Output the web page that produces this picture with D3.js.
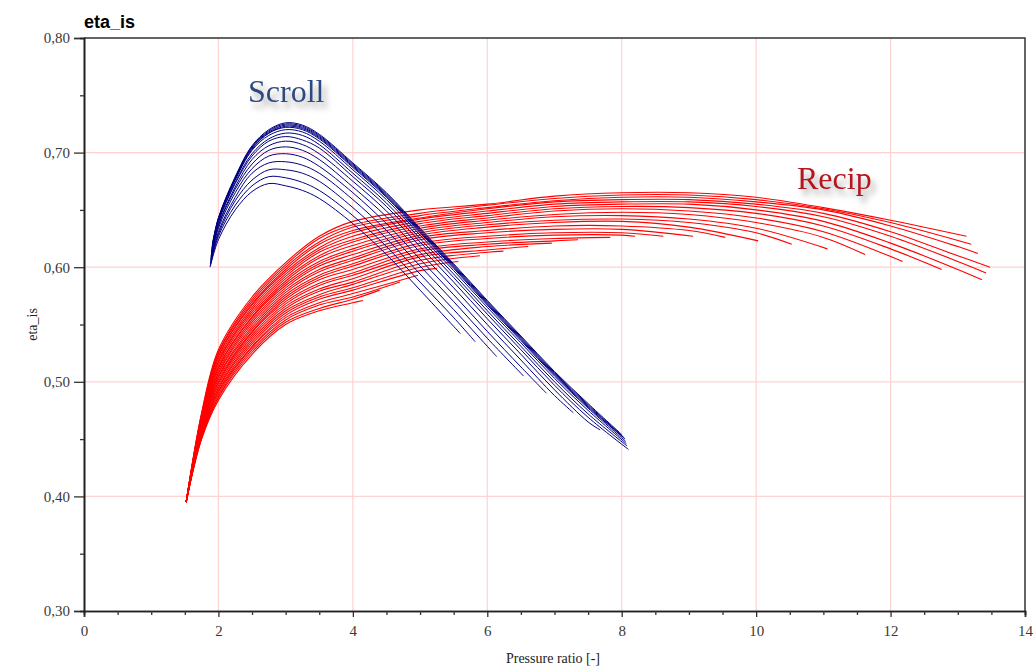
<!DOCTYPE html>
<html>
<head>
<meta charset="utf-8">
<script src="https://cdn.jsdelivr.net/npm/d3@7"></script>
<style>
  body { margin: 0; background: #fff; }
  svg { display: block; }
</style>
</head>
<body>
<script>
// chart size
var width = 1034,
    height = 668;

const margin = {left: 84, right: 9, top: 38, bottom: 57};

// axis ticks
const xTicks = [0, 2, 4, 6, 8, 10, 12, 14];
const yTicks = [0.3, 0.4, 0.5, 0.6, 0.7, 0.8];

// Scroll curves: common x grid, one y row per curve (truncated at its end point)
const scrollGridX = [2.0, 2.25, 2.5, 2.75, 3.0, 3.25, 3.5, 4.0, 4.5, 5.0, 5.5, 6.0, 6.5, 7.0, 7.5];
const scrollStartX = [1.875, 1.878, 1.880, 1.883, 1.885, 1.888, 1.890, 1.893, 1.895, 1.898, 1.900, 1.903, 1.905, 1.908, 1.910];
const scrollStartY = [0.600, 0.601, 0.603, 0.604, 0.606, 0.607, 0.609, 0.610, 0.611, 0.613, 0.614, 0.616, 0.617, 0.619, 0.620];
const scrollY = [
  [0.624, 0.650, 0.666, 0.673, 0.671, 0.667, 0.660, 0.638, 0.611, 0.580],
  [0.627, 0.654, 0.671, 0.679, 0.678, 0.674, 0.667, 0.645, 0.618, 0.587, 0.556],
  [0.629, 0.658, 0.676, 0.685, 0.685, 0.682, 0.675, 0.652, 0.625, 0.594, 0.563, 0.531],
  [0.631, 0.661, 0.682, 0.691, 0.692, 0.689, 0.682, 0.659, 0.632, 0.601, 0.570, 0.538],
  [0.634, 0.665, 0.686, 0.697, 0.699, 0.696, 0.688, 0.665, 0.638, 0.607, 0.576, 0.544, 0.513],
  [0.636, 0.668, 0.690, 0.702, 0.705, 0.702, 0.694, 0.670, 0.644, 0.613, 0.582, 0.550, 0.519, 0.488],
  [0.637, 0.670, 0.694, 0.706, 0.710, 0.707, 0.699, 0.675, 0.649, 0.618, 0.587, 0.555, 0.524, 0.493, 0.465],
  [0.639, 0.673, 0.697, 0.710, 0.714, 0.711, 0.704, 0.679, 0.653, 0.622, 0.591, 0.559, 0.528, 0.497, 0.469],
  [0.640, 0.674, 0.699, 0.712, 0.717, 0.715, 0.707, 0.682, 0.656, 0.625, 0.594, 0.562, 0.531, 0.500, 0.472],
  [0.641, 0.676, 0.702, 0.715, 0.720, 0.718, 0.710, 0.685, 0.659, 0.628, 0.597, 0.565, 0.534, 0.503, 0.475],
  [0.642, 0.677, 0.703, 0.717, 0.722, 0.720, 0.712, 0.687, 0.661, 0.630, 0.599, 0.567, 0.536, 0.505, 0.477],
  [0.642, 0.677, 0.704, 0.717, 0.723, 0.721, 0.713, 0.688, 0.662, 0.631, 0.600, 0.568, 0.537, 0.506, 0.478],
  [0.642, 0.678, 0.705, 0.718, 0.724, 0.722, 0.714, 0.689, 0.663, 0.632, 0.601, 0.569, 0.538, 0.507, 0.479],
  [0.643, 0.678, 0.705, 0.719, 0.725, 0.723, 0.715, 0.690, 0.664, 0.633, 0.602, 0.570, 0.539, 0.508, 0.480],
  [0.643, 0.679, 0.706, 0.720, 0.726, 0.724, 0.716, 0.691, 0.665, 0.634, 0.603, 0.571, 0.540, 0.509, 0.481]
];
const scrollEndX = [5.60, 5.82, 6.14, 6.54, 6.88, 7.28, 7.68, 8.10, 8.08, 8.07, 8.06, 8.05, 8.04, 8.02, 8.00];
const scrollEndY = [0.542, 0.535, 0.522, 0.505, 0.490, 0.473, 0.458, 0.441, 0.444, 0.446, 0.448, 0.450, 0.451, 0.452, 0.454];

// Recip curves: all start at the same low point
const recipStart = [1.52, 0.395];
const recipGridX = [1.75, 2, 2.5, 3, 3.5, 4, 5, 6, 7, 8, 9, 10, 11, 12, 13];
const recipY = [
  [0.450, 0.484, 0.524, 0.550, 0.562, 0.569],
  [0.451, 0.486, 0.526, 0.552, 0.564, 0.572],
  [0.452, 0.487, 0.528, 0.554, 0.567, 0.574],
  [0.453, 0.489, 0.530, 0.556, 0.569, 0.577],
  [0.453, 0.491, 0.531, 0.558, 0.572, 0.580, 0.597],
  [0.454, 0.492, 0.533, 0.560, 0.574, 0.582, 0.600],
  [0.455, 0.494, 0.535, 0.562, 0.576, 0.585, 0.603],
  [0.456, 0.495, 0.537, 0.564, 0.579, 0.587, 0.606, 0.613],
  [0.457, 0.497, 0.539, 0.566, 0.581, 0.590, 0.609, 0.615],
  [0.458, 0.499, 0.541, 0.568, 0.584, 0.593, 0.611, 0.618],
  [0.459, 0.500, 0.543, 0.570, 0.586, 0.595, 0.614, 0.620, 0.623],
  [0.459, 0.502, 0.544, 0.572, 0.589, 0.598, 0.616, 0.622, 0.625],
  [0.460, 0.504, 0.546, 0.574, 0.591, 0.601, 0.619, 0.625, 0.628, 0.628],
  [0.461, 0.505, 0.548, 0.576, 0.593, 0.603, 0.621, 0.627, 0.630, 0.630],
  [0.462, 0.507, 0.550, 0.578, 0.596, 0.606, 0.624, 0.630, 0.633, 0.633],
  [0.463, 0.508, 0.552, 0.580, 0.598, 0.608, 0.626, 0.632, 0.636, 0.636, 0.632],
  [0.464, 0.510, 0.554, 0.582, 0.601, 0.611, 0.628, 0.635, 0.639, 0.640, 0.635],
  [0.465, 0.512, 0.556, 0.584, 0.603, 0.614, 0.630, 0.637, 0.641, 0.642, 0.639, 0.630],
  [0.465, 0.513, 0.557, 0.586, 0.605, 0.616, 0.632, 0.639, 0.644, 0.645, 0.642, 0.634],
  [0.466, 0.515, 0.559, 0.588, 0.608, 0.619, 0.634, 0.641, 0.646, 0.648, 0.646, 0.639, 0.626],
  [0.467, 0.517, 0.561, 0.590, 0.610, 0.622, 0.636, 0.643, 0.649, 0.651, 0.649, 0.643, 0.631],
  [0.468, 0.518, 0.563, 0.592, 0.613, 0.624, 0.638, 0.645, 0.651, 0.653, 0.652, 0.647, 0.636, 0.616],
  [0.469, 0.520, 0.565, 0.594, 0.615, 0.627, 0.640, 0.647, 0.653, 0.655, 0.655, 0.650, 0.640, 0.621, 0.598],
  [0.470, 0.522, 0.567, 0.596, 0.617, 0.630, 0.642, 0.649, 0.655, 0.657, 0.657, 0.653, 0.644, 0.627, 0.605],
  [0.470, 0.523, 0.568, 0.598, 0.620, 0.632, 0.643, 0.651, 0.657, 0.659, 0.659, 0.655, 0.647, 0.631, 0.610],
  [0.471, 0.525, 0.570, 0.600, 0.622, 0.635, 0.645, 0.652, 0.658, 0.661, 0.661, 0.657, 0.650, 0.636, 0.618],
  [0.472, 0.526, 0.572, 0.602, 0.625, 0.637, 0.647, 0.654, 0.660, 0.663, 0.663, 0.659, 0.651, 0.639],
  [0.473, 0.528, 0.574, 0.604, 0.627, 0.640, 0.650, 0.655, 0.662, 0.665, 0.665, 0.661, 0.652, 0.641]
];
const recipEndX = [4.15, 4.40, 4.70, 4.97, 5.25, 5.57, 5.89, 6.24, 6.61, 6.96, 7.35, 7.83, 8.20, 8.62, 9.06, 9.54,
                   10.03, 10.53, 11.06, 11.62, 12.18, 12.76, 13.36, 13.42, 13.48, 13.30, 13.20, 13.13];
const recipEndY = [0.571, 0.580, 0.587, 0.593, 0.599, 0.605, 0.610, 0.614, 0.618, 0.621, 0.624, 0.626, 0.627, 0.627, 0.627, 0.626,
                   0.623, 0.620, 0.616, 0.611, 0.605, 0.598, 0.589, 0.595, 0.600, 0.612, 0.620, 0.627];


var svg = d3.select('body').append('svg')
    .attr('width', width)
    .attr('height', height);

// shadow for the two series labels
var defs = svg.append('defs');
defs.append('filter')
    .attr('id', 'shadow')
    .attr('x', '-20%').attr('y', '-30%')
    .attr('width', '150%').attr('height', '180%')
  .append('feDropShadow')
    .attr('dx', 4).attr('dy', 6)
    .attr('stdDeviation', 3)
    .attr('flood-color', '#000')
    .attr('flood-opacity', 0.35);

var x = d3.scaleLinear().domain([0, 14]).range([margin.left, width - margin.right]);
var y = d3.scaleLinear().domain([0.3, 0.8]).range([height - margin.bottom, margin.top]);

var plotL = x(0), plotR = x(14), plotT = y(0.8), plotB = y(0.3);

// grid
svg.append('g').selectAll('line')
    .data(xTicks.slice(1, -1))
    .enter().append('line')
    .attr('x1', d => x(d)).attr('x2', d => x(d))
    .attr('y1', plotT).attr('y2', plotB)
    .attr('stroke', '#ffd2d2').attr('stroke-width', 1.2);

svg.append('g').selectAll('line')
    .data(yTicks.slice(1, -1))
    .enter().append('line')
    .attr('x1', plotL).attr('x2', plotR)
    .attr('y1', d => y(d)).attr('y2', d => y(d))
    .attr('stroke', '#ffd2d2').attr('stroke-width', 1.2);

// frame top / right
svg.append('path')
    .attr('d', `M${plotL},${plotT}H${plotR}V${plotB}`)
    .attr('fill', 'none').attr('stroke', '#333').attr('stroke-width', 1.5);

var line = d3.line()
    .x(d => x(d[0]))
    .y(d => y(d[1]))
    .curve(d3.curveCatmullRom.alpha(0.5));

function recipPoints(i) {
  var pts = [recipStart];
  recipY[i].forEach(function(v, j) { pts.push([recipGridX[j], v]); });
  pts.push([recipEndX[i], recipEndY[i]]);
  return pts;
}

function scrollPoints(i) {
  var pts = [[scrollStartX[i], scrollStartY[i]]];
  scrollY[i].forEach(function(v, j) { pts.push([scrollGridX[j], v]); });
  pts.push([scrollEndX[i], scrollEndY[i]]);
  return pts;
}

svg.append('g').selectAll('path')
    .data(d3.range(recipY.length).map(recipPoints))
    .enter().append('path')
    .attr('d', line)
    .attr('fill', 'none')
    .attr('stroke', '#ff0000')
    .attr('stroke-width', 1.1);

svg.append('g').selectAll('path')
    .data(d3.range(scrollY.length).map(scrollPoints))
    .enter().append('path')
    .attr('d', line)
    .attr('fill', 'none')
    .attr('stroke', '#000080')
    .attr('stroke-width', 1);

// axes
var fmt = d => d.toFixed(2).replace('.', ',');

var xAxis = svg.append('g')
    .attr('transform', `translate(0,${plotB})`)
    .call(d3.axisBottom(x).tickValues(xTicks).tickFormat(d3.format('d')).tickSize(6).tickPadding(8));

var xMinor = svg.append('g')
    .attr('transform', `translate(0,${plotB})`)
    .call(d3.axisBottom(x).tickValues(d3.range(0.5, 14, 1).concat(d3.range(1, 14, 2))).tickFormat('').tickSize(4));

var yAxis = svg.append('g')
    .attr('transform', `translate(${plotL},0)`)
    .call(d3.axisLeft(y).tickValues(yTicks).tickFormat(fmt).tickSize(10).tickPadding(4));

var yMinor = svg.append('g')
    .attr('transform', `translate(${plotL},0)`)
    .call(d3.axisLeft(y).tickValues([0.35, 0.45, 0.55, 0.65, 0.75]).tickFormat('').tickSize(4));

[xAxis, xMinor, yAxis, yMinor].forEach(function(g) {
  g.select('.domain').attr('stroke', '#222').attr('stroke-width', 1.6);
  g.selectAll('.tick line').attr('stroke', '#333').attr('stroke-width', 1.3);
  g.selectAll('text')
    .attr('font-family', '"Liberation Serif", "Times New Roman", serif')
    .attr('font-size', 15)
    .attr('fill', '#3a3a3a');
});

// titles
svg.append('text')
    .attr('x', plotL)
    .attr('y', 28)
    .attr('font-family', '"Liberation Sans", Arial, sans-serif')
    .attr('font-weight', 'bold')
    .attr('font-size', 18)
    .text('eta_is');

svg.append('text')
    .attr('x', 553)
    .attr('y', 663)
    .attr('text-anchor', 'middle')
    .attr('font-family', '"Liberation Serif", "Times New Roman", serif')
    .attr('font-size', 14)
    .attr('fill', '#222')
    .text('Pressure ratio [-]');

svg.append('text')
    .attr('transform', `translate(37,${(plotT + plotB) / 2}) rotate(-90)`)
    .attr('text-anchor', 'middle')
    .attr('font-family', '"Liberation Serif", "Times New Roman", serif')
    .attr('font-size', 14)
    .attr('fill', '#222')
    .text('eta_is');

// series labels
svg.append('text')
    .attr('x', 248)
    .attr('y', 102)
    .attr('font-family', '"Liberation Serif", "Times New Roman", serif')
    .attr('font-size', 32)
    .attr('fill', '#2d4a80')
    .attr('filter', 'url(#shadow)')
    .text('Scroll');

svg.append('text')
    .attr('x', 797)
    .attr('y', 189)
    .attr('font-family', '"Liberation Serif", "Times New Roman", serif')
    .attr('font-size', 32)
    .attr('fill', '#b3141c')
    .attr('filter', 'url(#shadow)')
    .text('Recip');
</script>
</body>
</html>
